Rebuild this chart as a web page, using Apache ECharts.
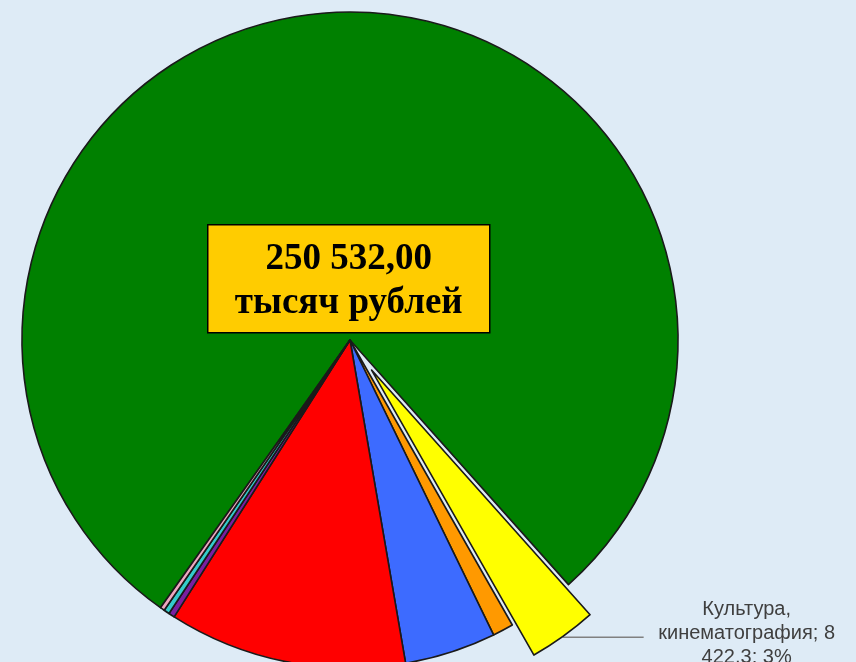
<!DOCTYPE html>
<html>
<head>
<meta charset="utf-8">
<script src="https://cdn.jsdelivr.net/npm/echarts@6/dist/echarts.min.js"></script>
<style>
html, body { margin: 0; padding: 0; background: #deebf6; }
#chart { width: 856px; height: 662px; }
</style>
</head>
<body>
<div id="chart"></div>
<script>
// разделы бюджета (по часовой стрелке, начиная с зелёного)
var names = [
    'Образование',
    'Культура, кинематография',
    'Социальная политика',
    'Общегосударственные вопросы',
    'Национальная экономика',
    'Жилищно-коммунальное хозяйство',
    'Национальная безопасность и правоохранительная деятельность',
    'Физическая культура и спорт'
];
var values = [196899.7, 8422.3, 2580, 11270, 29360, 750, 700, 550];   // тыс. руб.
var colors = ['#008000', '#ffff00', '#ff9900', '#3d6bff', '#ff0000', '#7a1fa0', '#33cccc', '#f0a8c0'];
var labelled = 'Культура, кинематография';   // подписан только этот сектор

var total = values.reduce(function (a, b) { return a + b; }, 0);

function fmtNum(v, digits) {
    var s = v.toFixed(digits).split('.');
    var head = s[0].replace(/\B(?=(\d{3})+(?!\d))/g, ' ');
    return digits ? head + ',' + s[1] : head;
}

// перенос строк как в excel
function wrap(text, max) {
    var words = text.split(' '), lines = [], cur = '';
    words.forEach(function (w) {
        if (cur && (cur + ' ' + w).length > max) {
            lines.push(cur);
            cur = w;
        } else {
            cur = cur ? cur + ' ' + w : w;
        }
    });
    lines.push(cur);
    return lines;
}

var myChart = echarts.init(document.getElementById('chart'));

var data = names.map(function (n, i) {
    var item = { name: n, value: values[i] };
    if (n === labelled) {
        item.selected = true;
        item.label = {
            show: true,
            position: 'outside',
            padding: [0, 0, 8, 0],
            formatter: function (p) {
                var txt = p.name + '; ' + fmtNum(p.value, 1) + '; ' + Math.round(p.percent) + '%';
                return wrap(txt, 17).map(function (l) { return '{a|' + l + '}'; }).join('\n');
            },
            rich: {
                a: {
                    width: 196,
                    align: 'center',
                    fontSize: 20,
                    lineHeight: 24,
                    color: '#3f3f3f',
                    fontFamily: '"Liberation Sans", Arial, sans-serif'
                }
            }
        };
        item.labelLine = {
            show: true,
            length: 1,
            length2: 80,
            lineStyle: { color: '#808080', width: 1.5 }
        };
    }
    return item;
});

var option = {
    backgroundColor: '#deebf6',
    animation: false,
    color: colors,
    series: [{
        type: 'pie',
        center: [350, 340],
        radius: 328,
        startAngle: -125.3,
        clockwise: true,
        selectedMode: 'single',
        selectedOffset: 37,
        avoidLabelOverlap: false,
        itemStyle: { borderColor: '#1a1a1a', borderWidth: 1.6 },
        emphasis: { scale: false },
        label: { show: false },
        labelLine: { show: false },
        data: data
    }],
    graphic: [{
        type: 'group',
        left: 207,
        top: 224,
        z: 100,
        children: [{
            type: 'rect',
            z: 100,
            shape: { x: 0, y: 0, width: 282, height: 108 },
            style: { fill: '#ffcc00', stroke: '#000', lineWidth: 1.5 }
        }, {
            type: 'text',
            z: 101,
            x: 141,
            y: 57,
            style: {
                text: fmtNum(total, 2) + '\nтысяч рублей',
                font: 'bold 37px "Liberation Serif", "Times New Roman", serif',
                fill: '#000',
                align: 'center',
                verticalAlign: 'middle',
                lineHeight: 44
            }
        }]
    }]
};

myChart.setOption(option);
</script>
</body>
</html>
